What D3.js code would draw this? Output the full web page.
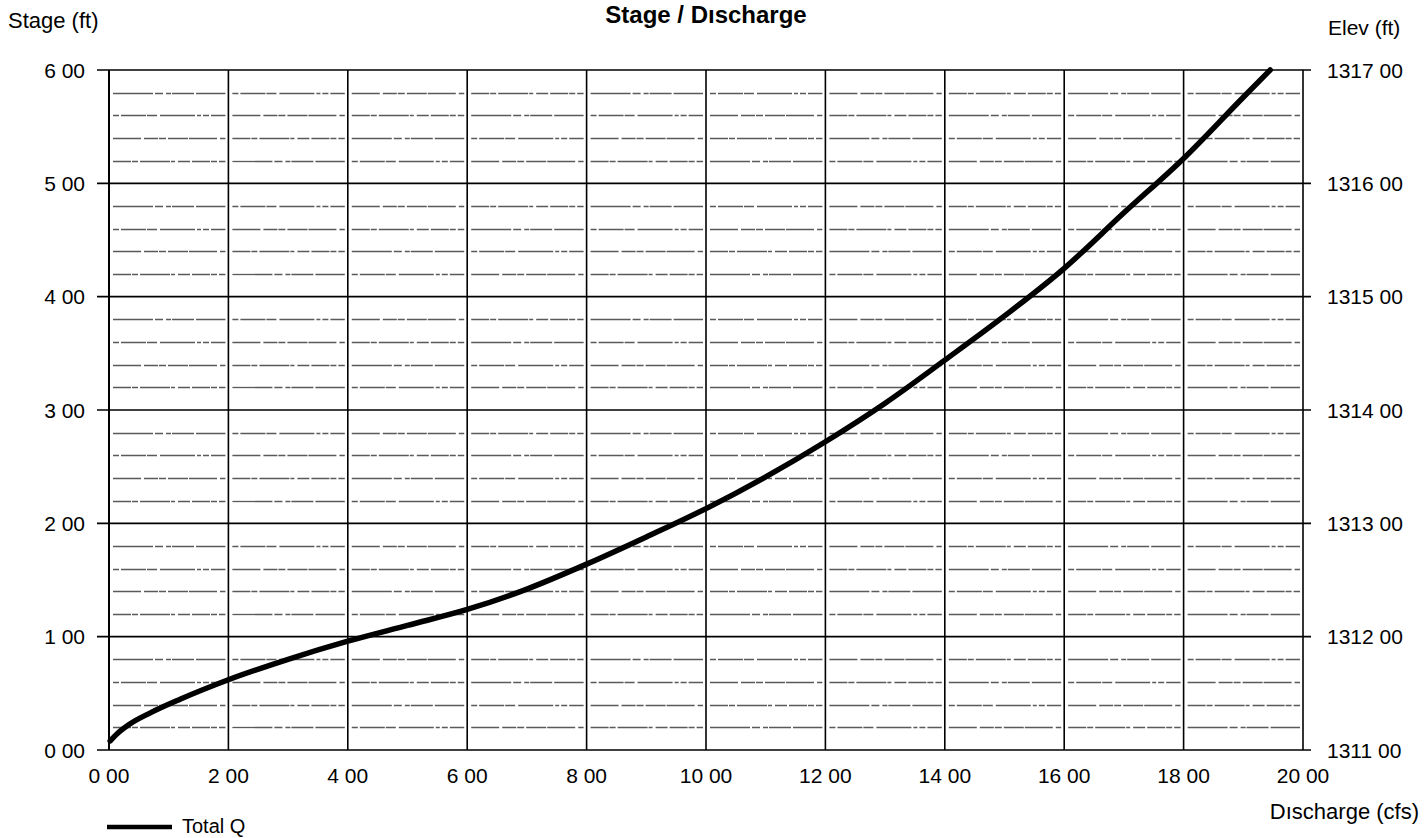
<!DOCTYPE html>
<html>
<head>
<meta charset="utf-8">
<script src="https://cdn.jsdelivr.net/npm/d3@7"></script>
<style>
  html, body { margin: 0; padding: 0; background: #fff; }
  svg { display: block; font-family: "Liberation Sans", Arial, sans-serif; }
</style>
</head>
<body>
<svg id="chart" width="1424" height="838"></svg>
<script>
// Rating curve: discharge (cfs) against stage (ft)
const discharge = [0.02, 0.15, 0.35, 0.7, 1.2, 2.0, 3.0, 4.0, 5.0, 6.0, 7.0, 8.0, 9.0, 10.0, 11.0, 12.0, 13.0, 14.0, 15.0, 16.0, 17.0, 18.0, 19.0, 19.45];
const stage     = [0.08, 0.15, 0.23, 0.33, 0.45, 0.62, 0.80, 0.96, 1.10, 1.24, 1.42, 1.64, 1.88, 2.13, 2.41, 2.72, 3.06, 3.44, 3.83, 4.25, 4.74, 5.22, 5.76, 6.0];

const xTicks = [0, 2, 4, 6, 8, 10, 12, 14, 16, 18, 20];
const xTickLabels = ["0 00", "2 00", "4 00", "6 00", "8 00", "10 00", "12 00", "14 00", "16 00", "18 00", "20 00"];
const yTicks = [0, 1, 2, 3, 4, 5, 6];
const yTickLabels = ["0 00", "1 00", "2 00", "3 00", "4 00", "5 00", "6 00"];
const elevTicks = [1311, 1312, 1313, 1314, 1315, 1316, 1317];
const elevTickLabels = ["1311 00", "1312 00", "1313 00", "1314 00", "1315 00", "1316 00", "1317 00"];
const minorStage = d3.range(0, 6.001, 0.2).filter(v => Math.abs(v - Math.round(v)) > 1e-6);

const seriesName = "Total Q";

const svg = d3.select("#chart");
const plotL = 109, plotR = 1303, plotT = 70, plotB = 750;

const x = d3.scaleLinear().domain([0, 20]).range([plotL, plotR]);
const y = d3.scaleLinear().domain([0, 6]).range([plotB, plotT]);
const yElev = d3.scaleLinear().domain([1311, 1317]).range([plotB, plotT]);

// minor horizontal grid: broken grey dotted lines inside each cell
const dashes = [
  "18,1,6,2,30,1,4,3,12,2",
  "40,2,8,3,5,1,22,2",
  "6,2,25,1,10,3,35,2,4,2",
  "28,3,14,1,7,2,20,1"
];
const gMinor = svg.append("g");
const cells = d3.range(10);
minorStage.forEach((s, i) => {
  cells.forEach(c => {
    gMinor.append("line")
      .attr("x1", x(c * 2) + 4).attr("x2", x(c * 2 + 2) - 3)
      .attr("y1", Math.round(y(s)) + 0.5).attr("y2", Math.round(y(s)) + 0.5)
      .attr("stroke", "#5a5a5a")
      .attr("stroke-width", 1.3)
      .attr("stroke-dasharray", dashes[(i * 3 + c) % dashes.length]);
  });
});

// major horizontal grid with outward ticks on both sides
svg.append("g").selectAll("line").data(yTicks).join("line")
  .attr("x1", plotL - 12).attr("x2", plotR + 8)
  .attr("y1", d => y(d)).attr("y2", d => y(d))
  .attr("stroke", "#000").attr("stroke-width", 1.6);

// vertical grid
svg.append("g").selectAll("line").data(xTicks).join("line")
  .attr("x1", d => x(d)).attr("x2", d => x(d))
  .attr("y1", plotT).attr("y2", plotB)
  .attr("stroke", "#000").attr("stroke-width", d => (d === 0 ? 2 : 1.6));

// left axis labels
svg.append("g").selectAll("text").data(yTicks).join("text")
  .attr("x", 85).attr("y", d => y(d)).attr("dy", "0.36em")
  .attr("text-anchor", "end").attr("font-size", 21)
  .text((d, i) => yTickLabels[i]);

// right axis labels (elevation)
svg.append("g").selectAll("text").data(elevTicks).join("text")
  .attr("x", 1327).attr("y", d => yElev(d)).attr("dy", "0.36em")
  .attr("text-anchor", "start").attr("font-size", 21)
  .text((d, i) => elevTickLabels[i]);

// bottom axis labels
svg.append("g").selectAll("text").data(xTicks).join("text")
  .attr("x", d => x(d)).attr("y", 783)
  .attr("text-anchor", "middle").attr("font-size", 21)
  .text((d, i) => xTickLabels[i]);

// rating curve
const line = d3.line()
  .x((d, i) => x(discharge[i]))
  .y((d, i) => y(stage[i]))
  .curve(d3.curveMonotoneX);

svg.append("path")
  .datum(stage)
  .attr("d", line)
  .attr("fill", "none")
  .attr("stroke", "#000")
  .attr("stroke-width", 5.5)
  .attr("stroke-linecap", "round")
  .attr("stroke-linejoin", "round");

// titles
svg.append("text").attr("x", 706).attr("y", 23).attr("text-anchor", "middle")
  .attr("font-size", 24).attr("font-weight", "bold").text("Stage / Dıscharge");
svg.append("text").attr("x", 8).attr("y", 28).attr("font-size", 22).text("Stage (ft)");
svg.append("text").attr("x", 1328).attr("y", 35).attr("font-size", 21).text("Elev (ft)");
svg.append("text").attr("x", 1419).attr("y", 819).attr("text-anchor", "end")
  .attr("font-size", 22).text("Dıscharge (cfs)");

// legend
svg.append("line").attr("x1", 107).attr("x2", 172).attr("y1", 827).attr("y2", 827)
  .attr("stroke", "#000").attr("stroke-width", 4.5);
svg.append("text").attr("x", 182).attr("y", 833).attr("font-size", 20).text(seriesName);
</script>
</body>
</html>
